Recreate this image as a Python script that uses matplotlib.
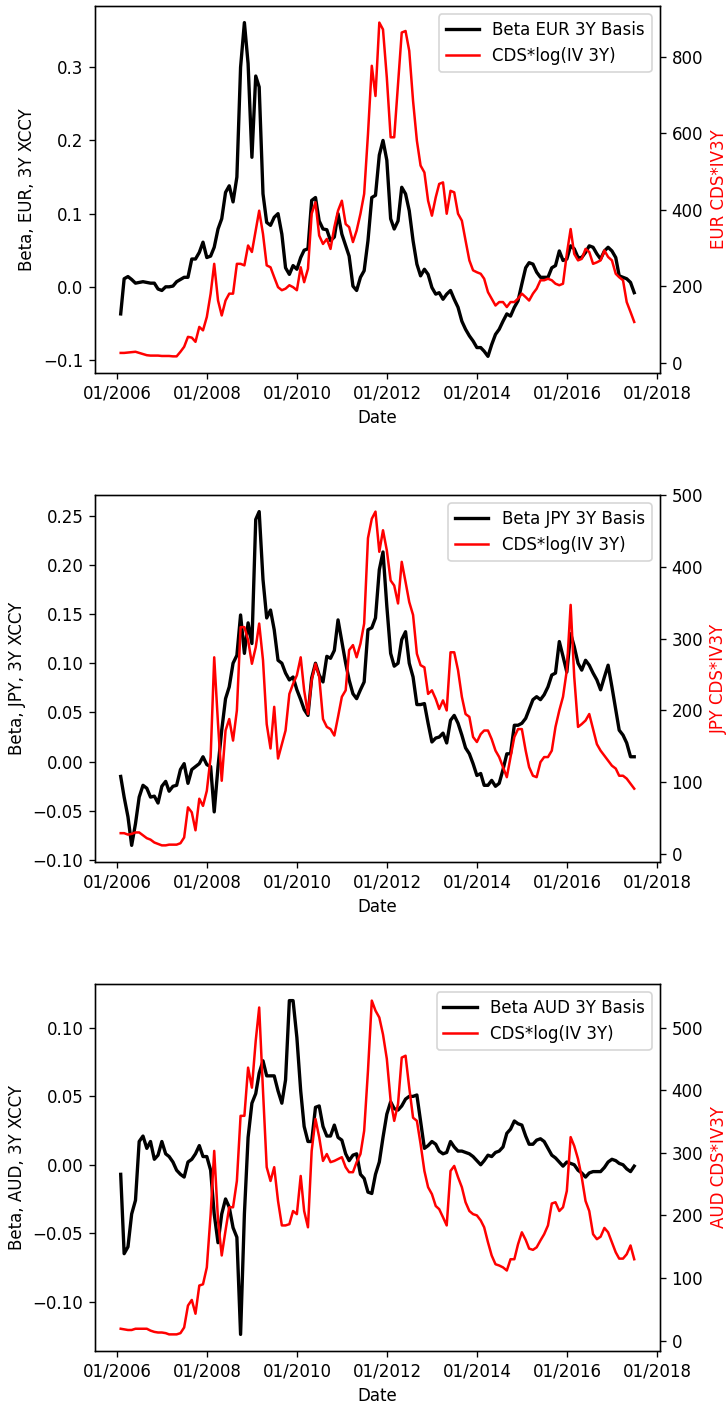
import numpy as np
import pandas as pd
import matplotlib
matplotlib.use('Agg')
import matplotlib.pyplot as plt
import matplotlib.dates as mdates

# monthly observations, end of month
dates = pd.date_range('2006-01-31', periods=138, freq='ME')

eur_beta = [
	-0.037, 0.011, 0.014, 0.010, 0.005, 0.006, 0.007, 0.006, 0.005, 0.005, -0.003, -0.005,
	0.000, 0.000, 0.001, 0.007, 0.010, 0.013, 0.013, 0.038, 0.038, 0.047, 0.061, 0.040,
	0.042, 0.054, 0.079, 0.093, 0.129, 0.138, 0.116, 0.150, 0.300, 0.361, 0.305, 0.177,
	0.288, 0.273, 0.127, 0.088, 0.084, 0.095, 0.100, 0.072, 0.026, 0.017, 0.029, 0.024,
	0.040, 0.050, 0.052, 0.118, 0.122, 0.090, 0.079, 0.078, 0.063, 0.068, 0.100, 0.072,
	0.056, 0.042, 0.001, -0.005, 0.013, 0.022, 0.063, 0.122, 0.125, 0.180, 0.200, 0.173,
	0.093, 0.079, 0.090, 0.136, 0.127, 0.104, 0.063, 0.031, 0.015, 0.024, 0.017, -0.001,
	-0.010, -0.008, -0.017, -0.010, -0.005, -0.017, -0.028, -0.047, -0.058, -0.067, -0.074, -0.083,
	-0.083, -0.088, -0.095, -0.079, -0.065, -0.058, -0.047, -0.037, -0.040, -0.028, -0.019, 0.004,
	0.026, 0.033, 0.031, 0.020, 0.013, 0.013, 0.013, 0.026, 0.029, 0.049, 0.036, 0.038,
	0.056, 0.052, 0.040, 0.040, 0.047, 0.056, 0.054, 0.045, 0.038, 0.049, 0.054, 0.049,
	0.040, 0.015, 0.013, 0.011, 0.006, -0.008]

eur_cds = [
	26, 26, 27, 28, 29, 26, 23, 20, 19, 19, 19, 18,
	18, 18, 17, 17, 29, 42, 68, 66, 55, 94, 85, 120,
	181, 259, 163, 124, 163, 181, 181, 259, 259, 255, 307, 290,
	346, 398, 337, 255, 250, 224, 198, 190, 194, 203, 198, 190,
	250, 211, 246, 390, 420, 333, 311, 324, 298, 355, 398, 424,
	363, 355, 316, 346, 390, 442, 598, 777, 698, 890, 872, 746,
	590, 590, 729, 864, 868, 816, 685, 581, 516, 498, 424, 385,
	433, 468, 472, 390, 450, 446, 390, 372, 320, 268, 242, 237,
	233, 220, 185, 168, 150, 159, 159, 146, 159, 159, 168, 181,
	172, 163, 181, 194, 216, 216, 220, 216, 207, 203, 207, 285,
	350, 285, 268, 272, 298, 290, 259, 263, 268, 294, 277, 268,
	233, 224, 216, 159, 133, 107]

jpy_beta = [
	-0.015, -0.036, -0.056, -0.085, -0.063, -0.036, -0.024, -0.027, -0.036, -0.035, -0.042, -0.025,
	-0.020, -0.030, -0.025, -0.024, -0.008, -0.002, -0.022, -0.008, -0.005, -0.002, 0.005, -0.003,
	-0.005, -0.051, -0.005, 0.032, 0.064, 0.076, 0.100, 0.108, 0.149, 0.110, 0.141, 0.120,
	0.246, 0.254, 0.185, 0.146, 0.154, 0.134, 0.103, 0.100, 0.090, 0.083, 0.086, 0.073,
	0.063, 0.053, 0.047, 0.085, 0.100, 0.088, 0.081, 0.107, 0.105, 0.113, 0.144, 0.122,
	0.100, 0.083, 0.069, 0.064, 0.073, 0.081, 0.134, 0.136, 0.146, 0.195, 0.213, 0.158,
	0.110, 0.097, 0.100, 0.124, 0.132, 0.100, 0.086, 0.058, 0.058, 0.059, 0.039, 0.020,
	0.024, 0.025, 0.029, 0.019, 0.042, 0.047, 0.039, 0.027, 0.014, 0.008, -0.002, -0.014,
	-0.012, -0.024, -0.024, -0.019, -0.025, -0.022, -0.008, 0.008, 0.008, 0.037, 0.037, 0.039,
	0.044, 0.053, 0.063, 0.066, 0.063, 0.068, 0.076, 0.088, 0.090, 0.122, 0.107, 0.091,
	0.130, 0.117, 0.100, 0.093, 0.103, 0.098, 0.090, 0.083, 0.073, 0.086, 0.098, 0.076,
	0.053, 0.032, 0.027, 0.019, 0.005, 0.005]

jpy_cds = [
	29, 29, 27, 28, 30, 30, 26, 22, 20, 16, 14, 12,
	12, 13, 13, 13, 15, 23, 65, 58, 33, 77, 67, 88,
	135, 274, 181, 102, 172, 188, 158, 200, 316, 316, 298, 265,
	288, 321, 270, 181, 147, 205, 133, 153, 172, 223, 237, 249,
	274, 228, 195, 242, 265, 247, 188, 177, 174, 165, 191, 219,
	228, 284, 291, 274, 293, 321, 440, 467, 477, 421, 451, 423,
	381, 374, 349, 407, 379, 351, 333, 279, 263, 260, 223, 228,
	216, 202, 214, 200, 281, 281, 256, 219, 195, 191, 163, 156,
	167, 172, 172, 160, 144, 135, 121, 107, 135, 163, 174, 174,
	144, 121, 109, 107, 128, 135, 135, 144, 177, 200, 219, 256,
	347, 247, 177, 181, 186, 195, 174, 153, 144, 137, 130, 123,
	119, 109, 109, 105, 98, 91]

aud_beta = [
	-0.007, -0.065, -0.060, -0.036, -0.026, 0.017, 0.021, 0.012, 0.017, 0.004, 0.007, 0.017,
	0.008, 0.006, 0.002, -0.004, -0.007, -0.009, 0.002, 0.004, 0.008, 0.014, 0.006, 0.006,
	-0.004, -0.036, -0.057, -0.036, -0.025, -0.031, -0.046, -0.053, -0.124, -0.036, 0.020, 0.045,
	0.052, 0.067, 0.076, 0.065, 0.065, 0.065, 0.054, 0.045, 0.062, 0.120, 0.120, 0.093,
	0.054, 0.028, 0.017, 0.017, 0.042, 0.043, 0.028, 0.021, 0.021, 0.029, 0.020, 0.018,
	0.008, 0.003, 0.007, 0.008, -0.007, -0.010, -0.020, -0.021, -0.007, 0.002, 0.020, 0.037,
	0.046, 0.041, 0.040, 0.043, 0.048, 0.050, 0.050, 0.051, 0.032, 0.012, 0.014, 0.017,
	0.015, 0.010, 0.008, 0.009, 0.017, 0.013, 0.010, 0.010, 0.009, 0.008, 0.006, 0.003,
	0.000, 0.003, 0.007, 0.006, 0.009, 0.010, 0.013, 0.023, 0.026, 0.032, 0.030, 0.029,
	0.021, 0.015, 0.015, 0.018, 0.019, 0.017, 0.012, 0.007, 0.005, 0.002, -0.001, 0.002,
	0.001, 0.000, -0.004, -0.006, -0.009, -0.006, -0.005, -0.005, -0.005, -0.002, 0.002, 0.004,
	0.003, 0.001, 0.000, -0.003, -0.005, -0.001]

aud_cds = [
	19, 18, 17, 17, 19, 19, 19, 19, 16, 14, 13, 13,
	12, 10, 10, 10, 12, 21, 56, 65, 43, 88, 90, 117,
	202, 303, 192, 136, 176, 213, 213, 255, 359, 359, 436, 404,
	479, 532, 399, 277, 255, 277, 223, 184, 184, 186, 207, 202,
	263, 207, 181, 303, 354, 325, 287, 298, 285, 287, 290, 293,
	277, 269, 269, 285, 298, 335, 431, 543, 527, 516, 489, 450,
	383, 351, 378, 452, 455, 404, 356, 351, 314, 271, 245, 234,
	215, 210, 197, 184, 271, 279, 261, 245, 221, 207, 202, 200,
	192, 181, 157, 136, 122, 120, 117, 112, 130, 130, 154, 173,
	161, 147, 145, 149, 160, 170, 184, 219, 221, 207, 213, 239,
	325, 311, 290, 261, 223, 207, 170, 162, 166, 180, 173, 157,
	141, 131, 131, 138, 152, 130]

currencies = ['EUR', 'JPY', 'AUD']
betas = [eur_beta, jpy_beta, aud_beta]
cds = [eur_cds, jpy_cds, aud_cds]


def plot_panel(ax, ccy, beta, cds_iv):
	"""
	Beta on the left axis, CDS*log(IV) on a twin axis
	"""
	l1, = ax.plot(dates, beta, color='black', lw=2, label='Beta %s 3Y Basis' % ccy)
	ax.set_ylabel('Beta, %s, 3Y XCCY' % ccy)
	ax.set_xlabel('Date')
	ax.xaxis.set_major_locator(mdates.YearLocator(2))
	ax.xaxis.set_major_formatter(mdates.DateFormatter('%m/%Y'))

	ax2 = ax.twinx()
	l2, = ax2.plot(dates, cds_iv, color='red', lw=1.5, label='CDS*log(IV 3Y)')
	ax2.set_ylabel('%s CDS*IV3Y' % ccy, color='red')
	ax2.legend([l1, l2], [l1.get_label(), l2.get_label()], loc='upper right')


# 727x1404 px at 120 dpi
fig = plt.figure(figsize=(727 / 120, 1404 / 120), dpi=120)
bottoms = [0.7343, 0.386, 0.0377]
for idx in range(3):
	ax = fig.add_axes([0.1307, bottoms[idx], 0.777, 0.2615])
	plot_panel(ax, currencies[idx], betas[idx], cds[idx])

fig.savefig('out.png', dpi=120)
